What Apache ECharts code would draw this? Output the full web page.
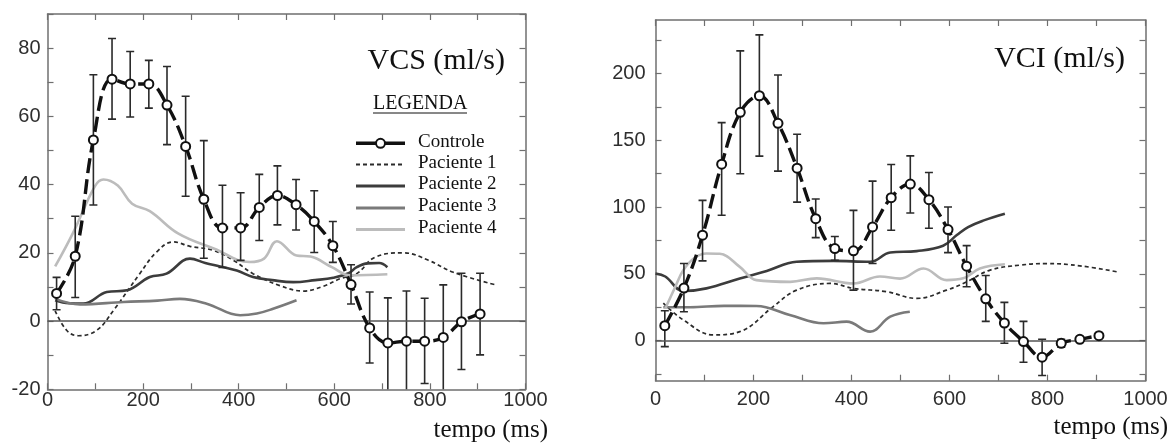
<!DOCTYPE html>
<html>
<head>
    <meta charset="utf-8">
    <title>VCS / VCI</title>
    <style>
        html, body { margin: 0; padding: 0; background: #fff; }
        #main { width: 1171px; height: 447px; }
    </style>
</head>
<body>
    <div id="main"></div>
    <script src="https://cdn.jsdelivr.net/npm/echarts@6/dist/echarts.min.js"></script>
    <script>
        // tempos dos pontos do controle (ms)
        var tempos = [19, 58, 96, 135, 173, 212, 250, 289, 327, 366, 404, 443, 481, 520, 558, 597, 635, 674, 712, 751, 789, 828, 866, 905];

        // VCS - controle (media e barras de erro)
        var vcsCtrl = [8.1, 19.0, 53.1, 70.9, 69.5, 69.5, 63.3, 51.2, 35.7, 27.3, 27.3, 33.3, 36.8, 34.1, 29.2, 22.1, 10.7, -2.0, -6.4, -5.9, -5.9, -4.8, -0.2, 2.1];
        var vcsHi = [12.8, 30.7, 72.2, 82.8, 79.0, 76.4, 74.6, 65.9, 52.9, 39.8, 37.6, 43.0, 45.5, 41.5, 38.2, 29.2, 16.5, 8.5, 6.8, 8.8, 6.7, 10.6, 14.0, 14.0];
        var vcsLo = [3.3, 6.9, 34.0, 59.2, 59.8, 62.4, 51.7, 36.6, 18.4, 15.7, 17.8, 23.6, 28.2, 26.7, 20.1, 17.2, 5.0, -12.3, -20.5, -21, -18.3, -21, -14.2, -9.9];

        // VCS - pacientes [tempo, valor]
        var vcsP1 = [[16, 3], [40, -2.7], [64, -4.3], [103, -2.7], [138, 3.1], [193, 13.9], [228, 20.2], [263, 23.2], [298, 21.9], [347, 20.7], [389, 17.8], [430, 13.9], [486, 10.4], [535, 8.8], [577, 10.2], [612, 12.4], [647, 13.9], [685, 18.7], [745, 20], [797, 17.8], [849, 14.3], [935, 10.7]];
        var vcsP2 = [[16, 6.1], [45, 5.2], [75, 5.1], [124, 8.5], [166, 9], [214, 12.9], [249, 13.9], [298, 18.3], [330, 17], [361, 16], [396, 14.8], [430, 12.9], [470, 12], [514, 11.4], [560, 12], [598, 12.7], [630, 14], [647, 15.8], [670, 16.9], [694, 17], [711, 15.8]];
        var vcsP3 = [[16, 6.5], [68, 4.9], [159, 5.6], [230, 6], [277, 6.5], [333, 5.1], [403, 1.7], [438, 2.2], [472, 3.6], [521, 6.1]];
        var vcsP4 = [[16, 16], [54, 26], [99, 39.5], [117, 41.5], [147, 39.7], [177, 34.4], [214, 32.2], [274, 25.6], [349, 21.2], [423, 17.3], [453, 18.3], [480, 23.4], [521, 19.2], [550, 18.9], [595, 15.8], [633, 13.4], [711, 13.7]];

        // VCI - controle
        var vciCtrl = [11.2, 39.3, 78.9, 132.1, 170.9, 183.3, 162.7, 129.1, 91.3, 68.9, 67.2, 85.1, 107.0, 117.2, 105.5, 83.1, 55.7, 31.3, 13.2, -0.7, -12.4, -2.0, 1.0, 3.7];
        var vciHi = [22.4, 57.7, 105, 163.2, 216.9, 228.9, 198.8, 154.5, 106, 77.9, 97.5, 119.4, 131.8, 138.3, 125.9, 100, 71.1, 48.8, 28.6, 14.4, 1.0, 1, 3, 5.5];
        var vciLo = [-4.5, 21.6, 59.7, 93.8, 124.9, 138.1, 126.9, 103.7, 77.1, 60.2, 37.8, 57.7, 82.6, 95.5, 84.1, 65.9, 40.3, 14.4, -2.0, -16.2, -26.1, -5, -1, 2];

        // VCI - pacientes
        var vciP1 = [[16, 28], [57, 15.4], [118, 4.3], [172, 6.7], [240, 25.4], [288, 37.8], [356, 42.8], [404, 39.1], [472, 36.6], [533, 31.6], [594, 37.8], [635, 44], [683, 52.8], [744, 56.5], [798, 57.7], [866, 56], [942, 51.5]];
        var vciP2 = [[0, 50.3], [20, 48], [57, 37.1], [104, 39.1], [172, 46.5], [227, 52.2], [288, 59], [363, 59.7], [438, 59], [479, 66], [533, 67], [587, 71], [615, 79], [638, 85], [670, 90], [713, 95]];
        var vciP3 = [[16, 25], [70, 25], [140, 26], [206, 25.9], [274, 19.2], [343, 13], [390, 14.2], [438, 6.7], [479, 17.9], [519, 21.6]];
        var vciP4 = [[20, 24], [40, 40], [57, 52.8], [80, 62], [104, 65.2], [131, 65], [172, 55.2], [206, 45.3], [275, 44], [329, 46.6], [404, 42.8], [458, 48], [499, 46.4], [547, 54], [594, 45.3], [628, 46.6], [662, 54], [713, 57.2]];

        // marcas dos eixos
        var xTicks = [0, 100, 200, 300, 400, 500, 600, 700, 800, 900, 1000];
        var xLabels = [0, 200, 400, 600, 800, 1000];
        var vcsTicks = [-20, -10, 0, 10, 20, 30, 40, 50, 60, 70, 80, 90];
        var vcsLabels = [-20, 0, 20, 40, 60, 80];
        var vciTicks = [-25, 0, 25, 50, 75, 100, 125, 150, 175, 200, 225];
        var vciLabels = [0, 50, 100, 150, 200];

        var nomes = ['Controle', 'Paciente 1', 'Paciente 2', 'Paciente 3', 'Paciente 4'];

        var serif = 'Liberation Serif';
        var sans = 'Liberation Sans';
        var frameColor = '#6f6f6f';
        // estilo das linhas: cor, largura, tracejado
        var cores = ['#111', '#2b2b2b', '#3c3c3c', '#7a7a7a', '#bcbcbc'];
        var larguras = [3.4, 1.7, 2.6, 2.6, 2.6];
        var tracos = [[15, 6], [4, 3], 'solid', 'solid', 'solid'];

        var myChart = echarts.init(document.getElementById('main'), null, { renderer: 'canvas' });

        function rotulo(v) {
            return String(v);
        }

        function eixoX(grid, pos, ticks, labels, margin) {
            return {
                type: 'value', gridIndex: grid, position: pos, min: 0, max: 1000,
                axisLine: { show: true, onZero: false, lineStyle: { color: frameColor, width: 1.5 } },
                axisTick: { show: true, inside: true, length: 6, customValues: ticks, lineStyle: { color: frameColor, width: 1.2 } },
                axisLabel: labels ? { show: true, customValues: labels, formatter: rotulo, margin: margin, color: '#2e2e2e', fontSize: 20, fontFamily: sans } : { show: false },
                splitLine: { show: false }
            };
        }

        function eixoY(grid, pos, min, max, ticks, labels, margin) {
            return {
                type: 'value', gridIndex: grid, position: pos, min: min, max: max,
                axisLine: { show: true, onZero: false, lineStyle: { color: frameColor, width: 1.5 } },
                axisTick: { show: true, inside: true, length: 6, customValues: ticks, lineStyle: { color: frameColor, width: 1.2 } },
                axisLabel: labels ? { show: true, customValues: labels, formatter: rotulo, margin: margin, color: '#2e2e2e', fontSize: 20, fontFamily: sans } : { show: false },
                splitLine: { show: false }
            };
        }

        function barrasErro(nome, xi, yi, hi, lo) {
            var dados = [];
            for (var i = 0; i < tempos.length; i++) {
                dados.push([tempos[i], hi[i], lo[i]]);
            }
            return {
                name: nome, type: 'custom', xAxisIndex: xi, yAxisIndex: yi, z: 3, clip: true, silent: true,
                encode: { x: 0, y: [1, 2] },
                data: dados,
                renderItem: function (params, api) {
                    var x = api.value(0);
                    var p1 = api.coord([x, api.value(1)]);
                    var p2 = api.coord([x, api.value(2)]);
                    var w = 4;
                    var st = { stroke: '#2a2a2a', lineWidth: 1.6 };
                    return {
                        type: 'group', children: [
                            { type: 'line', shape: { x1: p1[0], y1: p1[1], x2: p2[0], y2: p2[1] }, style: st },
                            { type: 'line', shape: { x1: p1[0] - w, y1: p1[1], x2: p1[0] + w, y2: p1[1] }, style: st },
                            { type: 'line', shape: { x1: p2[0] - w, y1: p2[1], x2: p2[0] + w, y2: p2[1] }, style: st }
                        ]
                    };
                }
            };
        }

        function controle(xi, yi, valores) {
            var dados = [];
            for (var i = 0; i < tempos.length; i++) {
                dados.push([tempos[i], valores[i]]);
            }
            return {
                name: 'Controle', type: 'line', xAxisIndex: xi, yAxisIndex: yi, z: 5,
                smooth: 0.4, data: dados,
                symbol: 'circle', symbolSize: 9, showSymbol: true,
                itemStyle: { color: '#fff', borderColor: '#111', borderWidth: 2 },
                lineStyle: { color: cores[0], width: larguras[0], type: tracos[0] },
                markLine: {
                    silent: true, symbol: 'none', label: { show: false },
                    lineStyle: { color: '#555', width: 1.5, type: 'solid' },
                    data: [{ yAxis: 0 }]
                }
            };
        }

        function paciente(k, xi, yi, dados) {
            return {
                name: nomes[k], type: 'line', xAxisIndex: xi, yAxisIndex: yi, z: 2,
                smooth: 0.4, data: dados, showSymbol: false, symbol: 'none',
                itemStyle: { color: cores[k] },
                lineStyle: { color: cores[k], width: larguras[k], type: tracos[k] }
            };
        }

        // legenda desenhada a mao (linha + texto)
        var legenda = [
            { type: 'text', left: 373, top: 94, style: { text: 'LEGENDA', font: '20px "Liberation Serif"', fill: '#111' } },
            { type: 'line', shape: { x1: 373, y1: 113, x2: 467, y2: 113 }, style: { stroke: '#111', lineWidth: 1 } }
        ];
        var linhaY = [143.3, 164.5, 186, 208, 229.5];
        for (var k = 0; k < nomes.length; k++) {
            legenda.push({
                type: 'line', shape: { x1: 356, y1: linhaY[k], x2: 405, y2: linhaY[k] },
                style: { stroke: cores[k], lineWidth: k == 0 ? 3.4 : (k == 1 ? 2 : 3), lineDash: k == 1 ? [4, 3] : null }
            });
            legenda.push({
                type: 'text', left: 418, top: linhaY[k] - 11,
                style: { text: nomes[k], font: '19px "Liberation Serif"', fill: '#111' }
            });
        }
        legenda.push({
            type: 'circle', shape: { cx: 380.5, cy: linhaY[0], r: 4.5 },
            style: { fill: '#fff', stroke: '#111', lineWidth: 2 }
        });

        var option = {
            animation: false,
            backgroundColor: '#fff',
            grid: [
                { left: 47.5, top: 14, width: 478, height: 375.3 },
                { left: 655.5, top: 20, width: 490, height: 360.7 }
            ],
            xAxis: [
                eixoX(0, 'bottom', xTicks, xLabels, 1),
                eixoX(0, 'top', xTicks, null),
                eixoX(1, 'bottom', xTicks, xLabels, 9),
                eixoX(1, 'top', xTicks, null)
            ],
            yAxis: [
                eixoY(0, 'left', -20, 90, vcsTicks, vcsLabels, 7),
                eixoY(0, 'right', -20, 90, vcsTicks, null),
                eixoY(1, 'left', -30, 240, vciTicks, vciLabels, 10),
                eixoY(1, 'right', -30, 240, vciTicks, null)
            ],
            graphic: [
                { type: 'text', right: 1171 - 505, top: 46, style: { text: 'VCS (ml/s)', font: '30px "Liberation Serif"', fill: '#111' } },
                { type: 'text', right: 1171 - 548, top: 418, style: { text: 'tempo (ms)', font: '25px "Liberation Serif"', fill: '#111' } },
                { type: 'text', right: 1171 - 1125, top: 44, style: { text: 'VCI (ml/s)', font: '30px "Liberation Serif"', fill: '#111' } },
                { type: 'text', right: 1171 - 1168, top: 415, style: { text: 'tempo (ms)', font: '25px "Liberation Serif"', fill: '#111' } }
            ].concat(legenda),
            series: [
                paciente(1, 0, 0, vcsP1),
                paciente(2, 0, 0, vcsP2),
                paciente(3, 0, 0, vcsP3),
                paciente(4, 0, 0, vcsP4),
                barrasErro('erroVCS', 0, 0, vcsHi, vcsLo),
                controle(0, 0, vcsCtrl),

                paciente(1, 2, 2, vciP1),
                paciente(2, 2, 2, vciP2),
                paciente(3, 2, 2, vciP3),
                paciente(4, 2, 2, vciP4),
                barrasErro('erroVCI', 2, 2, vciHi, vciLo),
                controle(2, 2, vciCtrl)
            ]
        };

        myChart.setOption(option);
    </script>
</body>
</html>
